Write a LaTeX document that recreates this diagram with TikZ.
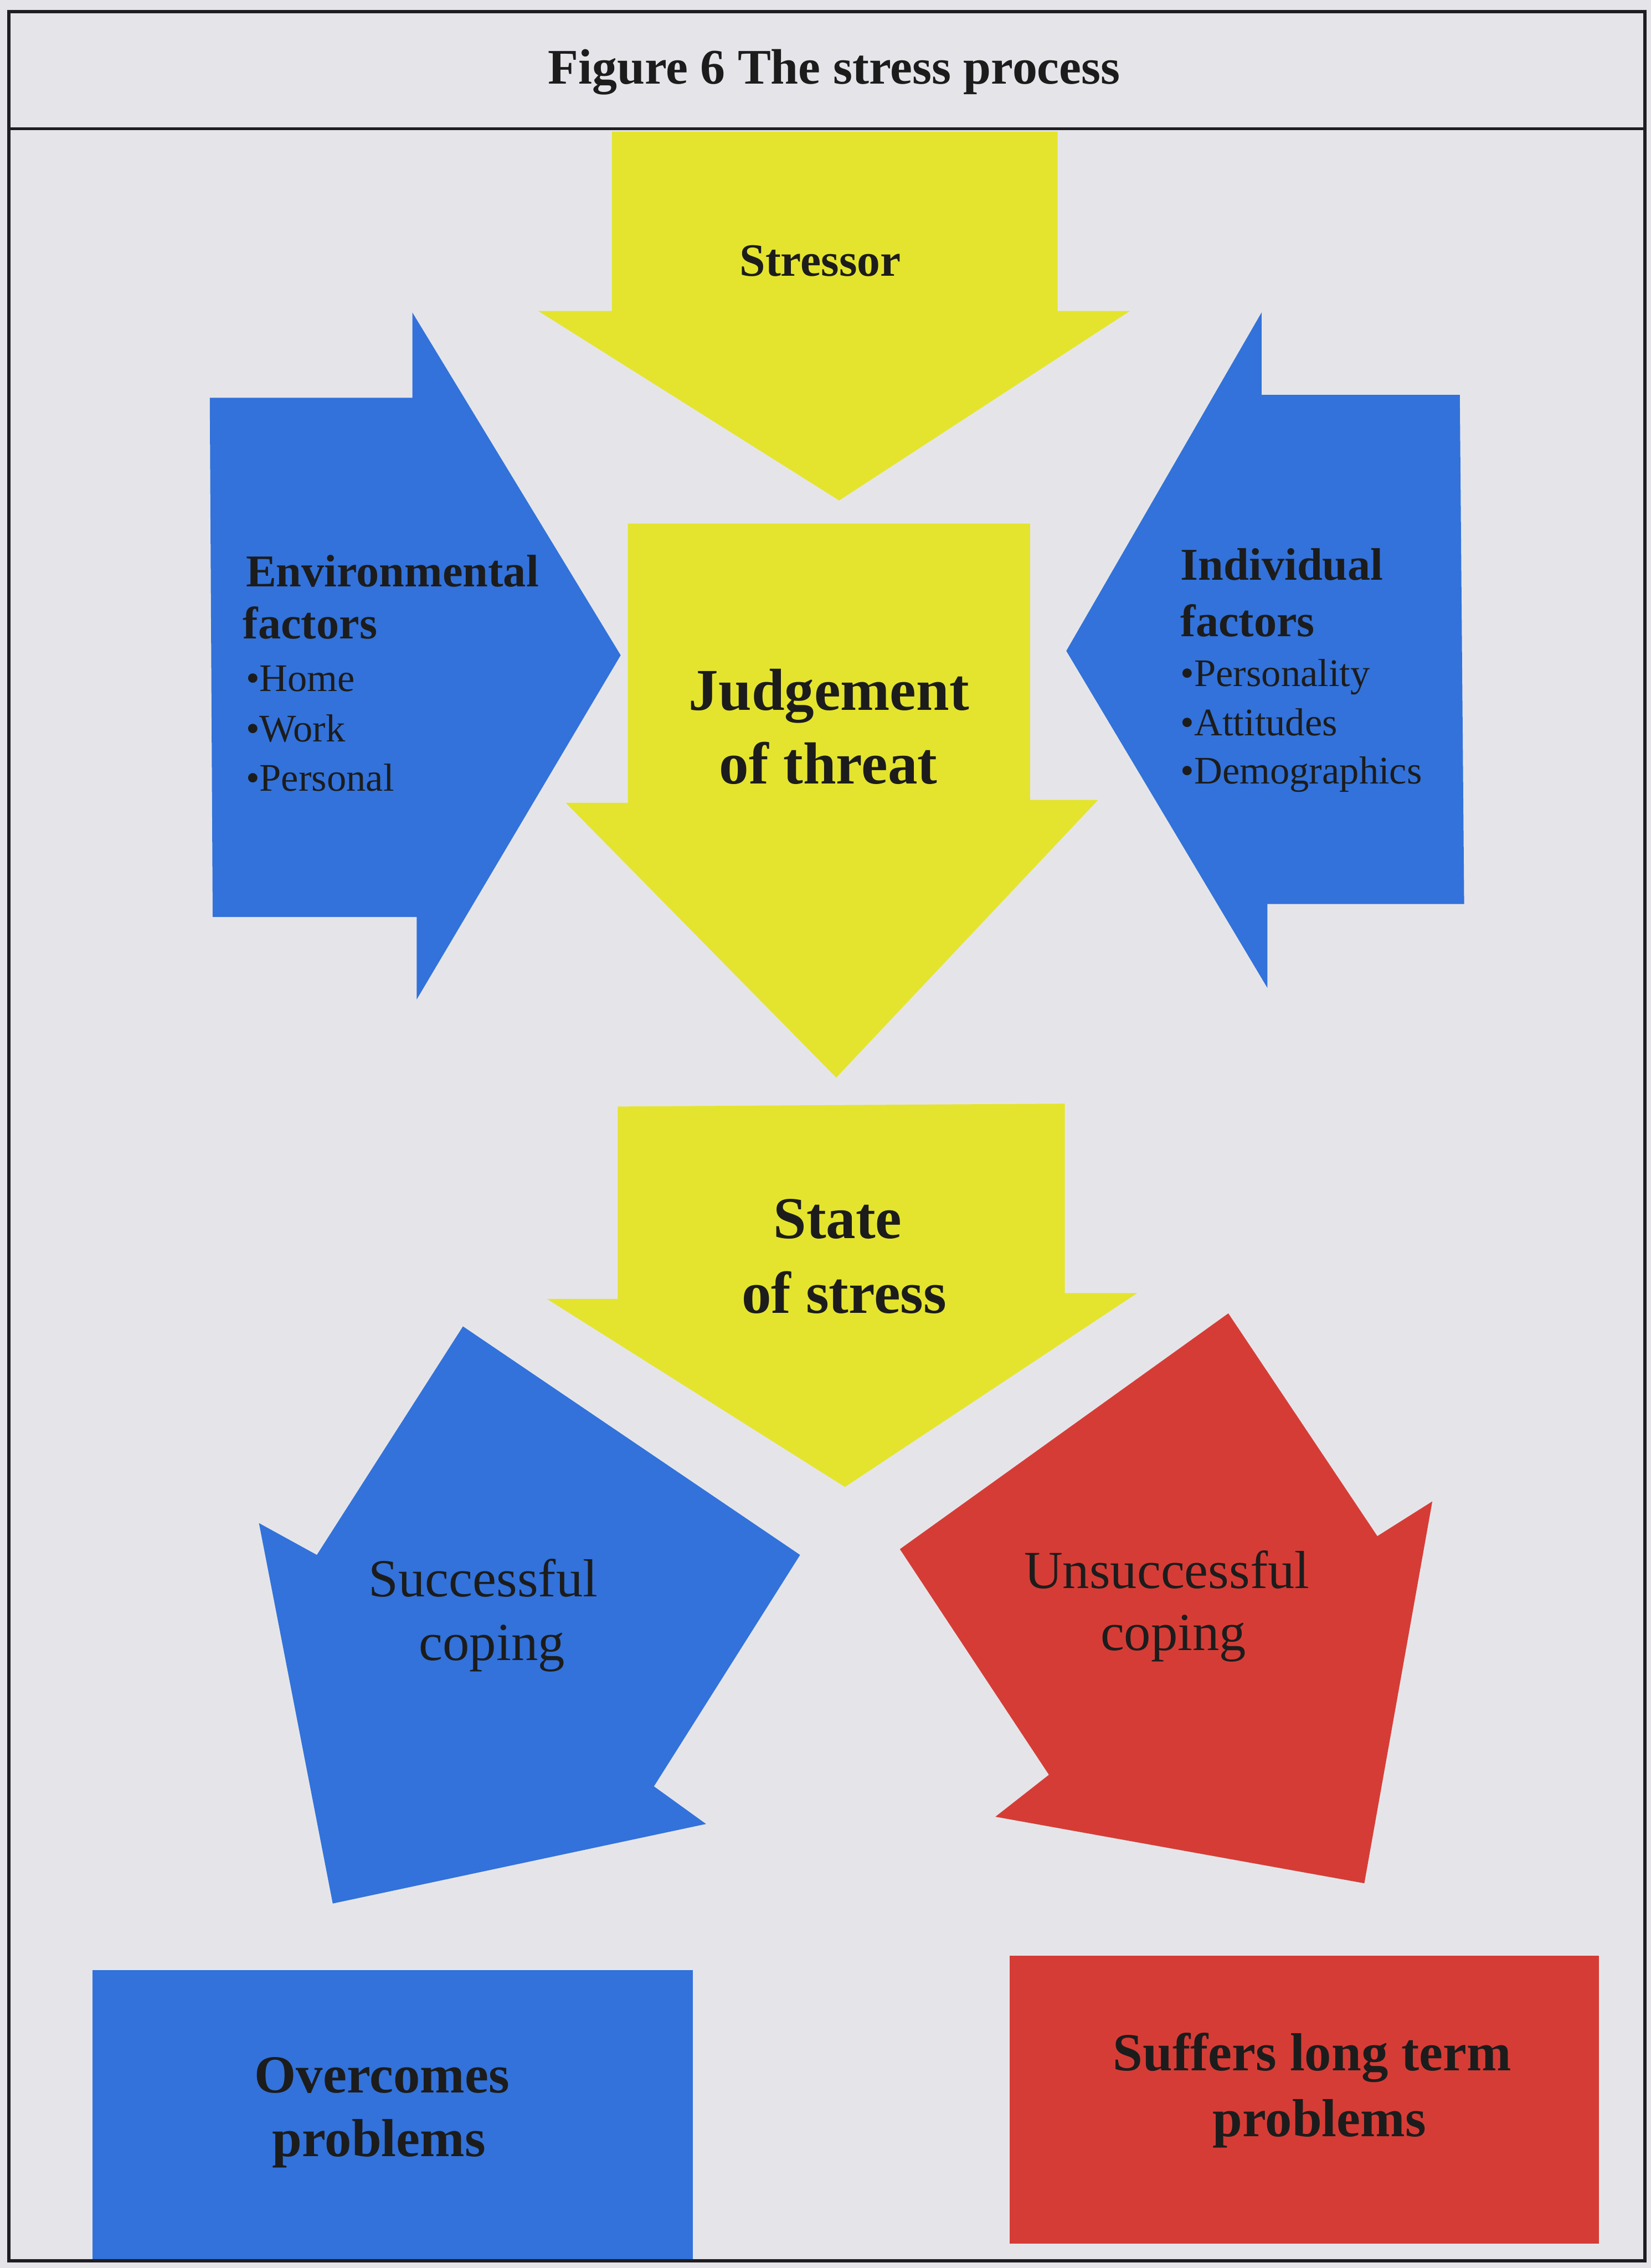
\documentclass[tikz,border=0pt]{standalone}
\usepackage{fontspec}
\setmainfont{Liberation Serif}
\definecolor{bg}{RGB}{229,229,233}
\definecolor{yel}{RGB}{228,228,46}
\definecolor{blu}{RGB}{50,114,218}
\definecolor{rd}{RGB}{214,60,54}
\definecolor{ink}{RGB}{28,28,28}
\definecolor{frame}{RGB}{30,30,34}
\tikzset{
  txt/.style={inner sep=0pt, outer sep=0pt, anchor=base, text=ink},
  titlefont/.style={txt, font=\fontsize{34.4}{41}\selectfont\bfseries},
  stressfont/.style={txt, font=\fontsize{32}{38}\selectfont\bfseries},
  bigbold/.style={txt, font=\fontsize{41}{49}\selectfont\bfseries},
  headbold/.style={txt, anchor=base west, font=\fontsize{31.5}{38}\selectfont\bfseries},
  itemtxt/.style={txt, anchor=base west, font=\fontsize{27}{33}\selectfont},
  copetxt/.style={txt, font=\fontsize{37}{44}\selectfont},
  boxbold/.style={txt, font=\fontsize{37}{44}\selectfont\bfseries},
  frameline/.style={draw=frame, line width=2.2pt}
}
\begin{document}
\begin{tikzpicture}[x=1pt,y=-1pt]
\useasboundingbox (0,0) rectangle (1141,1568);
\fill[bg] (0,0) rectangle (1141,1568);

% Stressor arrow
\fill[yel] (423,91) -- (731,91) -- (731,215) -- (781,215) -- (580,346) -- (372,215) -- (423,215) -- cycle;
% Judgement arrow
\fill[yel] (434,362) -- (712,362) -- (712,553) -- (759,553) -- (578,745) -- (391,555) -- (434,555) -- cycle;
% Environmental factors arrow
\fill[blu] (145,275) -- (285,275) -- (285,216) -- (429,453) -- (288,691) -- (288,634) -- (147,634) -- cycle;
% Individual factors arrow
\fill[blu] (1009,273) -- (872,273) -- (872,216) -- (737,450) -- (876,683) -- (876,625) -- (1012,625) -- cycle;
% State of stress arrow
\fill[yel] (427,765) -- (736,763) -- (736,894) -- (786,894) -- (584,1028) -- (378,898) -- (427,898) -- cycle;
% Successful coping arrow
\fill[blu] (320,917) -- (553,1075) -- (452,1235) -- (488,1261) -- (230,1316) -- (179,1053) -- (219,1075) -- cycle;
% Unsuccessful coping arrow
\fill[rd] (849,908) -- (952,1062) -- (990,1038) -- (943,1302) -- (688,1256) -- (725,1227) -- (622,1071) -- cycle;
% Outcome boxes
\fill[blu] (64,1362) rectangle (479,1562);
\fill[rd] (698,1352) rectangle (1105,1551);

% Frame
\draw[frameline] (6,8) rectangle (1137,1563);
\draw[frameline] (6,89) -- (1137,89);

% Texts
\node[titlefont] (title) at (576.5,58) {Figure 6 The stress process};
\node[stressfont] (stressor) at (567,191) {Stressor};
\node[bigbold] (judge1) at (573,491) {Judgement};
\node[bigbold] (judge2) at (572.5,542) {of threat};

\node[headbold] (env1) at (170,405.5) {Environmental};
\node[headbold] (env2) at (168,441.7) {factors};
\node[itemtxt] (env3) at (170,478) {•Home};
\node[itemtxt] (env4) at (170,512.6) {•Work};
\node[itemtxt] (env5) at (170,546.7) {•Personal};

\node[headbold] (ind1) at (816,401) {Individual};
\node[headbold] (ind2) at (816,440) {factors};
\node[itemtxt] (ind3) at (816,474.6) {•Personality};
\node[itemtxt] (ind4) at (816,508.7) {•Attitudes};
\node[itemtxt] (ind5) at (816,542) {•Demographics};

\node[bigbold] (state1) at (579,856) {State};
\node[bigbold] (state2) at (583.5,907.7) {of stress};

\node[copetxt] (succ1) at (334,1104) {Successful};
\node[copetxt] (succ2) at (340,1148) {coping};
\node[copetxt] (unsucc1) at (806.5,1098) {Unsuccessful};
\node[copetxt] (unsucc2) at (811,1141) {coping};

\node[boxbold] (over1) at (264,1447) {Overcomes};
\node[boxbold] (over2) at (262,1491) {problems};
\node[boxbold] (suff1) at (907,1431.5) {Suffers long term};
\node[boxbold] (suff2) at (912,1477) {problems};
\end{tikzpicture}
\end{document}
